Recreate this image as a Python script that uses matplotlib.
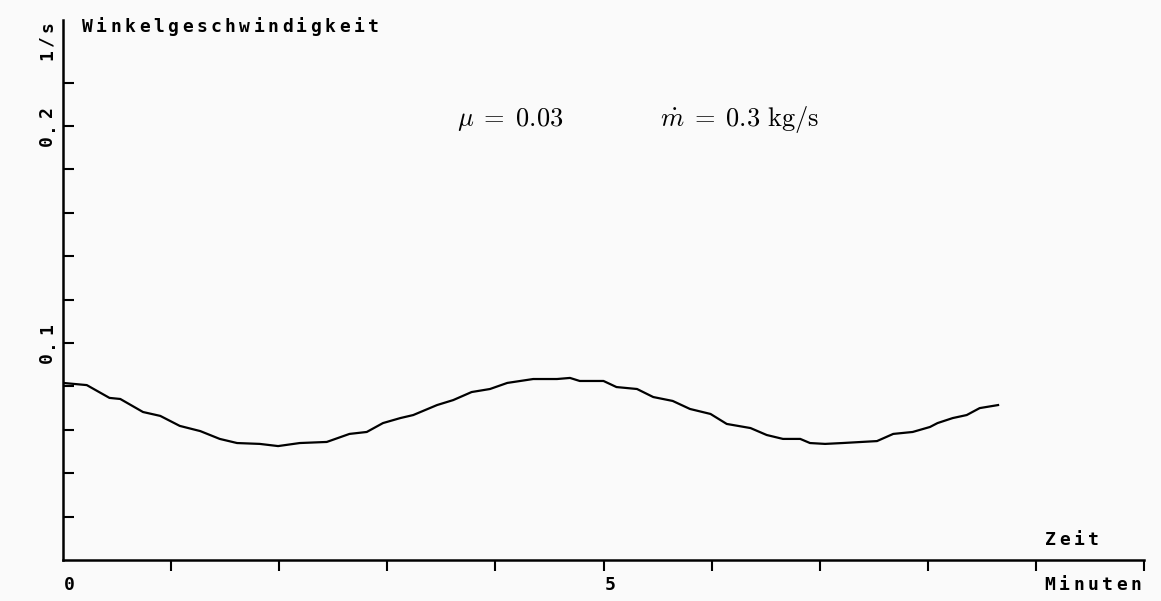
import matplotlib
matplotlib.use("Agg")
import matplotlib.pyplot as plt
import numpy as np

plt.rcParams['mathtext.fontset'] = 'cm'

# ---- data ----
t_min = [0.00, 0.22, 0.43, 0.53, 0.74, 0.90, 1.08, 1.27, 1.45, 1.61, 1.82, 1.99,
         2.19, 2.44, 2.65, 2.81, 2.96, 3.12, 3.24, 3.46, 3.61, 3.78, 3.95, 4.11,
         4.35, 4.57, 4.69, 4.78, 5.00, 5.12, 5.31, 5.46, 5.64, 5.80, 5.99, 6.14,
         6.36, 6.51, 6.66, 6.82, 6.91, 7.05, 7.21, 7.53, 7.68, 7.86, 8.02, 8.09,
         8.23, 8.36, 8.48, 8.65]
omega = [0.0816, 0.0806, 0.0747, 0.0742, 0.0682, 0.0664, 0.0618, 0.0594, 0.0558,
         0.0539, 0.0535, 0.0525, 0.0539, 0.0544, 0.0581, 0.0590, 0.0631, 0.0654,
         0.0668, 0.0714, 0.0737, 0.0774, 0.0788, 0.0816, 0.0834, 0.0834, 0.0839,
         0.0825, 0.0825, 0.0797, 0.0788, 0.0751, 0.0733, 0.0696, 0.0673, 0.0627,
         0.0608, 0.0576, 0.0558, 0.0558, 0.0539, 0.0535, 0.0539, 0.0548, 0.0581,
         0.0590, 0.0613, 0.0631, 0.0654, 0.0668, 0.0700, 0.0714]
x_ticks = [1, 2, 3, 4, 5, 6, 7, 8, 9, 10]
y_ticks = [0.02, 0.04, 0.06, 0.08, 0.10, 0.12, 0.14, 0.16, 0.18, 0.20, 0.22]
title_text = "Winkelgeschwindigkeit"
y_unit = "1/s"
x_label = "Zeit"
x_unit = "Minuten"
x_ticklabels = [("0", 0), ("5", 5)]
y_ticklabels = [("0.1", 0.1), ("0.2", 0.2)]
param_mu = r"$\mu\;=\;0.03$"
param_mdot = r"$\dot{m}\;=\;0.3\ \mathrm{kg/s}$"

W, H = 1161, 601
bg = '#fafafa'
fig = plt.figure(figsize=(W / 100, H / 100), dpi=100, facecolor=bg)

left, right, top, bottom = 63, 1144, 20, 560
ax = fig.add_axes([left / W, 1 - bottom / H, (right - left) / W, (bottom - top) / H])
ax.set_facecolor(bg)
ax.set_xlim(0, 10)
ax.set_ylim(0, (bottom - top) / 2170)

ax.plot(t_min, omega, color='black', lw=1.6)

for s in ['top', 'right']:
    ax.spines[s].set_visible(False)
for s in ['left', 'bottom']:
    ax.spines[s].set_linewidth(1.8)
    ax.spines[s].set_color('black')

ax.set_xticks(x_ticks)
ax.set_yticks(y_ticks)
ax.tick_params(axis='x', direction='out', length=8, width=1.5, labelbottom=False)
ax.tick_params(axis='y', direction='in', length=8, width=1.5, labelleft=False)

PITCH = 14.3
FS = 13
mono = dict(family='DejaVu Sans Mono', weight='bold', fontsize=FS, color='black')


def fx(px):
    return px / W


def fy(py):
    return 1 - py / H


def mono_h(x0, baseline, s):
    for i, ch in enumerate(s):
        fig.text(fx(x0 + (i + 0.5) * PITCH), fy(baseline), ch,
                 ha='center', va='baseline', **mono)


def mono_v(xbase, y0, s):
    # text read bottom to top, y0 = bottom pixel of the string
    for i, ch in enumerate(s):
        fig.text(fx(xbase), fy(y0 - (i + 0.5) * PITCH), ch,
                 ha='center', va='baseline', rotation=90,
                 rotation_mode='anchor', **mono)


def val_to_py(v):
    return bottom - v * 2170


def t_to_px(t):
    return left + t * 108.1


mono_h(80, 32, title_text)
mono_v(52, 62, y_unit)
for lab, v in y_ticklabels:
    c = val_to_py(v)
    mono_v(52, c + len(lab) * PITCH / 2, lab)
for lab, t in x_ticklabels:
    mono_h(t_to_px(t) - 1, 590, lab)
mono_h(1043, 545, x_label)
mono_h(1043, 590, x_unit)

fig.text(fx(457), fy(126), param_mu, fontsize=19, ha='left', va='baseline')
fig.text(fx(660), fy(126), param_mdot, fontsize=19, ha='left', va='baseline')

fig.savefig('out.png', dpi=100, facecolor=bg)
